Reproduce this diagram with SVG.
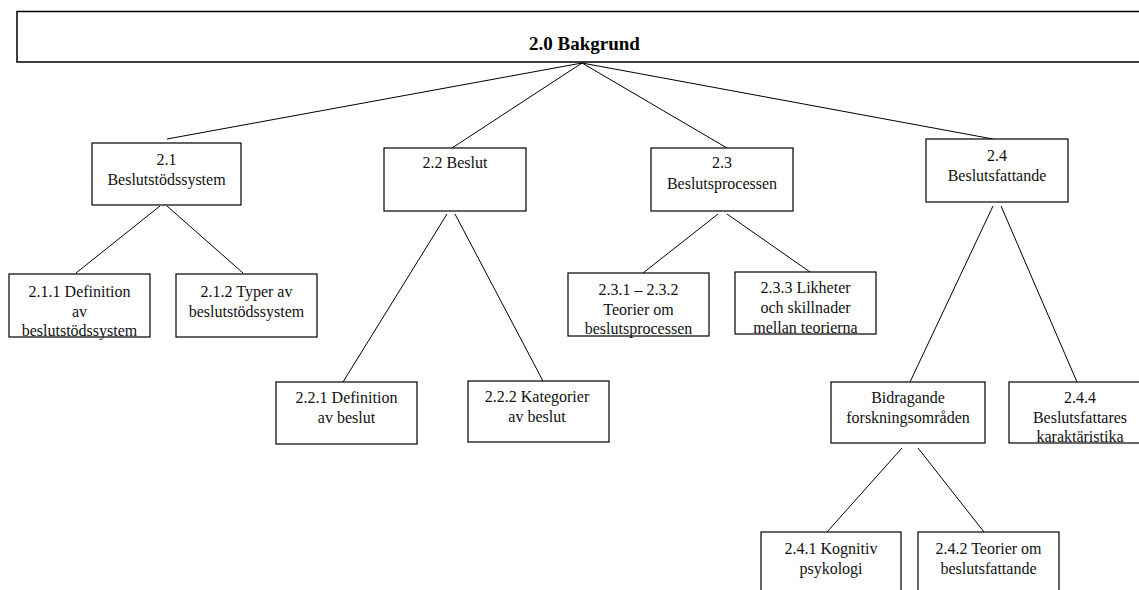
<svg xmlns="http://www.w3.org/2000/svg" width="1139" height="590" viewBox="0 0 1139 590">
<style>
.box{fill:#fff;stroke:#000;stroke-width:1.2}
.t{font-family:"Liberation Serif","Times New Roman",serif;font-size:16px;fill:#111;text-anchor:middle}
.title{font-family:"Liberation Serif","Times New Roman",serif;font-size:19px;font-weight:bold;fill:#000;text-anchor:middle}
.c line{stroke:#000;stroke-width:1}
</style>
<rect width="1139" height="590" fill="#fff"/>
<g class="c" id="connectors">
<line x1="582" y1="63" x2="167" y2="139"/>
<line x1="582" y1="63" x2="452" y2="148"/>
<line x1="582" y1="63" x2="727" y2="148"/>
<line x1="582" y1="63" x2="993" y2="139"/>
<line x1="160" y1="206" x2="76" y2="273"/>
<line x1="167" y1="206" x2="243" y2="273"/>
<line x1="447" y1="214" x2="343" y2="382"/>
<line x1="455" y1="214" x2="543" y2="381"/>
<line x1="718" y1="214" x2="643" y2="273"/>
<line x1="727" y1="214" x2="810" y2="272"/>
<line x1="993" y1="206" x2="910" y2="382"/>
<line x1="1001" y1="206" x2="1077" y2="382"/>
<line x1="902" y1="448" x2="827" y2="532"/>
<line x1="918" y1="448" x2="984" y2="532"/>
</g>
<g id="n20">
<rect class="box" x="17" y="11.5" width="1140" height="50.5" style="stroke-width:1.5"/>
<text class="title" x="584.5" y="50">2.0 Bakgrund</text>
</g>
<g id="n21">
<rect class="box" x="92" y="143" width="149" height="62"/>
<text class="t" x="166.5" y="165">2.1</text>
<text class="t" x="166.5" y="185">Beslutstödssystem</text>
</g>
<g id="n211">
<rect class="box" x="9" y="274" width="141" height="63"/>
<text class="t" x="79.5" y="297">2.1.1 Definition</text>
<text class="t" x="79.5" y="317">av</text>
<text class="t" x="79.5" y="336">beslutstödssystem</text>
</g>
<g id="n212">
<rect class="box" x="176" y="274" width="141" height="63"/>
<text class="t" x="246.5" y="297">2.1.2 Typer av</text>
<text class="t" x="246.5" y="317">beslutstödssystem</text>
</g>
<g id="n22">
<rect class="box" x="384" y="148" width="142" height="63"/>
<text class="t" x="455" y="168">2.2 Beslut</text>
</g>
<g id="n221">
<rect class="box" x="276" y="382" width="141" height="62"/>
<text class="t" x="346.5" y="403">2.2.1 Definition</text>
<text class="t" x="346.5" y="423">av beslut</text>
</g>
<g id="n222">
<rect class="box" x="468" y="381" width="141" height="61"/>
<text class="t" x="537" y="402">2.2.2 Kategorier</text>
<text class="t" x="537" y="422">av beslut</text>
</g>
<g id="n23">
<rect class="box" x="651" y="148" width="142" height="63"/>
<text class="t" x="722" y="168">2.3</text>
<text class="t" x="722" y="189">Beslutsprocessen</text>
</g>
<g id="n231">
<rect class="box" x="568" y="273" width="141" height="63"/>
<text class="t" x="638.5" y="295">2.3.1 – 2.3.2</text>
<text class="t" x="638.5" y="315">Teorier om</text>
<text class="t" x="638.5" y="334">beslutsprocessen</text>
</g>
<g id="n233">
<rect class="box" x="735" y="272" width="141" height="62"/>
<text class="t" x="805.5" y="293">2.3.3 Likheter</text>
<text class="t" x="805.5" y="313">och skillnader</text>
<text class="t" x="805.5" y="333">mellan teorierna</text>
</g>
<g id="n24">
<rect class="box" x="926" y="139" width="142" height="63"/>
<text class="t" x="997" y="161">2.4</text>
<text class="t" x="997" y="181">Beslutsfattande</text>
</g>
<g id="nbid">
<rect class="box" x="831" y="382" width="154" height="61"/>
<text class="t" x="908" y="403">Bidragande</text>
<text class="t" x="908" y="423">forskningsområden</text>
</g>
<g id="n244">
<rect class="box" x="1009" y="382" width="142" height="61"/>
<text class="t" x="1080" y="403">2.4.4</text>
<text class="t" x="1080" y="423">Beslutsfattares</text>
<text class="t" x="1080" y="442">karaktäristika</text>
</g>
<g id="n241">
<rect class="box" x="761" y="532" width="140" height="70"/>
<text class="t" x="831" y="554">2.4.1 Kognitiv</text>
<text class="t" x="831" y="574">psykologi</text>
</g>
<g id="n242">
<rect class="box" x="918" y="532" width="141" height="70"/>
<text class="t" x="988.5" y="554">2.4.2 Teorier om</text>
<text class="t" x="988.5" y="574">beslutsfattande</text>
</g>
</svg>
